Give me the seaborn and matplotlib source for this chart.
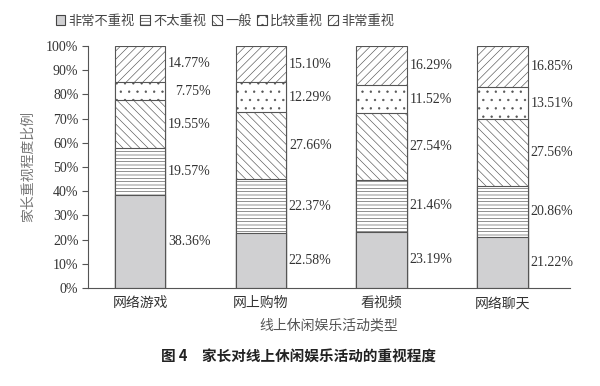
import numpy as np
import pandas as pd
import matplotlib
matplotlib.use("Agg")
import matplotlib.pyplot as plt
from matplotlib.patches import Patch
import seaborn as sns

categories = ["网络游戏", "网上购物", "看视频", "网络聊天"]
levels = ["非常不重视", "不太重视", "一般", "比较重视", "非常重视"]
not_at_all = [38.36, 22.58, 23.19, 21.22]
not_much = [19.57, 22.37, 21.46, 20.86]
average = [19.55, 27.66, 27.54, 27.56]
fairly = [7.75, 12.29, 11.52, 13.51]
very = [14.77, 15.10, 16.29, 16.85]
yticks = [0, 10, 20, 30, 40, 50, 60, 70, 80, 90, 100]

series = [not_at_all, not_much, average, fairly, very]
fills = ["#d0d0d2", "white", "white", "white", "white"]
hatches = [None, "-----", "\\\\\\\\", "..", "////"]

sns.set_theme(style="white")
plt.rcParams["font.family"] = ["Liberation Serif", "Noto Sans CJK SC"]
plt.rcParams["hatch.linewidth"] = 0.45
plt.rcParams["hatch.color"] = "#555555"

tops = np.cumsum(np.array(series), axis=0)

fig = plt.figure(figsize=(6, 3.86), dpi=100)
ax = fig.add_axes([0.147, 0.254, 0.803, 0.627])

# draw cumulative bars from the tallest down so each layer covers the next
for i in range(len(levels) - 1, -1, -1):
    df = pd.DataFrame({"cat": categories, "top": tops[i]})
    sns.barplot(data=df, x="cat", y="top", ax=ax, color=fills[i],
                width=0.42, edgecolor="#555555", linewidth=0.8,
                saturation=1)
    for p in ax.patches[-len(categories):]:
        p.set_facecolor(fills[i])
        if hatches[i]:
            p.set_hatch(hatches[i])

text_color = "#333333"
for j in range(len(categories)):
    for i in range(len(levels)):
        v = series[i][j]
        yc = tops[i][j] - v / 2
        ax.text(j + 0.585, yc, f"{v:.2f}%", ha="right", va="center",
                fontsize=10, color=text_color, family="Liberation Serif")

ax.set_xlim(-0.43, 3.56)
ax.set_ylim(0, 100)
ax.set_yticks(yticks)
ax.set_yticklabels([f"{t}%" for t in yticks], fontsize=10, color=text_color)
ax.tick_params(axis="y", direction="out", length=4, width=0.8, color="#555555", left=True, pad=3)
ax.tick_params(axis="x", length=0, labelsize=10, labelcolor=text_color, pad=6)
ax.set_xticks(range(len(categories)))
ax.set_xticklabels(categories, family=["Noto Sans CJK SC"], fontweight="light")
for s in ["top", "right"]:
    ax.spines[s].set_visible(False)
for s in ["left", "bottom"]:
    ax.spines[s].set_color("#555555")
    ax.spines[s].set_linewidth(0.8)

ax.set_xlabel("线上休闲娱乐活动类型", fontsize=10, color="#555555",
              family=["Noto Sans CJK SC"], fontweight="light", labelpad=6)
ax.set_ylabel("家长重视程度比例", fontsize=10, color="#777777",
              family=["Noto Sans CJK SC"], fontweight="light", labelpad=8)

handles = []
for i in range(len(levels)):
    handles.append(Patch(facecolor=fills[i], edgecolor="#444444", linewidth=0.8,
                         hatch=hatches[i], label=levels[i]))
leg = fig.legend(handles=handles, loc="center", bbox_to_anchor=(0.375, 0.945),
                 ncol=5, frameon=False, handlelength=0.75, handleheight=0.75,
                 handletextpad=0.25, columnspacing=0.4,
                 prop={"family": "Noto Sans CJK SC", "size": 9.5, "weight": "light"})
for t in leg.get_texts():
    t.set_color("#444444")

fig.text(0.497, 0.075, "图 4　家长对线上休闲娱乐活动的重视程度", ha="center", va="center",
         fontsize=10.5, fontweight="bold", color="#222222", family=["Noto Sans CJK SC"])

fig.savefig("out.png", dpi=100)
